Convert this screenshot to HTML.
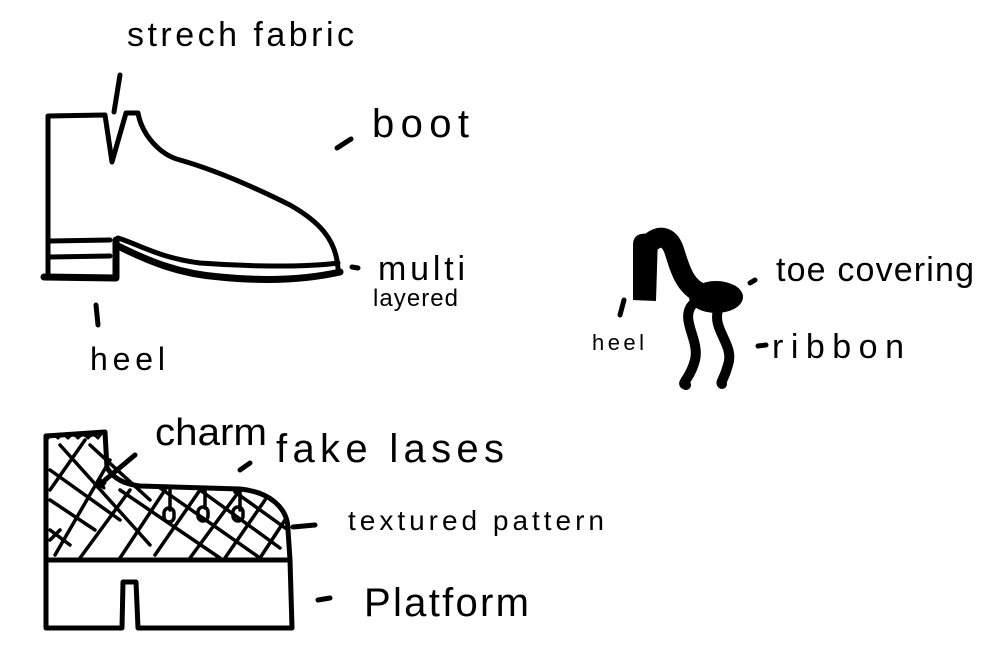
<!DOCTYPE html>
<html><head><style>
html,body{margin:0;padding:0;background:#fff;}
svg{display:block;}
text{font-family:"Liberation Sans",sans-serif;fill:#000;}
</style></head><body>
<svg width="1000" height="660" viewBox="0 0 1000 660" xmlns="http://www.w3.org/2000/svg">
<g fill="none" stroke="#000" stroke-width="5" stroke-linecap="round" stroke-linejoin="round">
<path d="M48 276 L48 116 L105 115 L112 162 L126 113 L138 113 C142 135 160 155 180 160 C215 170 250 185 290 205 C320 222 336 240 338 268"/>
<path d="M50 241 L110 240 M50 257 L110 256"/>
<path d="M44 277 L116 278 L116 240" stroke-width="7"/>
<path d="M118 238 C140 245 160 258 200 263 C240 266 300 268 338 263"/>
<path d="M118 246 C150 262 180 274 220 277 C260 281 300 281 340 272" stroke-width="7"/>
<path d="M120 75 L114 112"/>
<path d="M337 148 L351 139"/>
<path d="M352 267 L358 268"/>
<path d="M96 305 L98 325"/>
<path d="M46 436 L46 628 L122 628 L123 582 L136 582 L138 628 L292 628 L290 560"/>
<path d="M46 560 L290 560"/>
<path d="M46 436 L105 432 L107 468 C115 480 125 484 140 486 L240 489 C270 492 288 508 288 530 L290 560"/>
<path d="M48 438 q5 -6 10 0 q5 -6 10 0 q5 -6 10 0 q5 -6 10 0 q5 -6 10 0 q5 -8 8 -4" stroke-width="3"/>
<path d="M105 480 L135 455"/>
<path d="M240 470 L250 463"/>
<path d="M293 527 L315 525"/>
<path d="M318 600 L330 598"/>
<g stroke-width="3.5">
<path d="M50 470 L120 520 M50 500 L95 530 M50 530 L70 545 M60 445 L150 545 M90 445 L150 500 M120 490 L220 558 M160 488 L260 558 M200 490 L280 548 M235 492 L288 530"/>
<path d="M55 555 L110 460 M80 558 L130 490 M120 558 L165 490 M155 555 L200 490 M190 558 L240 490 M225 558 L265 500 M260 558 L285 520 M50 490 L85 440 M60 530 L50 540"/>
<path d="M170 490 L170 510 M205 488 L205 508 M240 490 L240 510"/>
<rect x="164" y="508" width="10" height="14" rx="5"/>
<rect x="198" y="507" width="10" height="14" rx="5"/>
<rect x="233" y="507" width="10" height="14" rx="5"/>
</g>
<path d="M98 488 l3 -8 l3 8 l-7 -5 l8 0 z" fill="#000" stroke-width="3"/>
<path d="M648 245 C660 232 670 238 674 250 C680 268 684 288 705 295" stroke-width="20"/>
<path d="M692 305 C680 320 700 340 695 360 C690 380 680 383 686 385" stroke-width="10"/>
<path d="M718 310 C712 330 735 345 728 365 C724 380 720 382 722 384" stroke-width="10"/>
<path d="M624 300 L620 315 M750 283 L755 280 M758 346 L766 345"/>
</g>
<path d="M633 300 L633 245 C633 232 645 232 658 236 L656 301 Z" fill="#000"/>
<ellipse cx="716" cy="297" rx="27" ry="16" fill="#000"/>
<g>
<text x="127" y="46" font-size="34" textLength="227" lengthAdjust="spacing">strech fabric</text>
<text x="372" y="137" font-size="40" textLength="97" lengthAdjust="spacing">boot</text>
<text x="378" y="280" font-size="34" textLength="87" lengthAdjust="spacing">multi</text>
<text x="373" y="306" font-size="24" textLength="85" lengthAdjust="spacing">layered</text>
<text x="90" y="370" font-size="32" textLength="75" lengthAdjust="spacing">heel</text>
<text x="776" y="281" font-size="34" textLength="198" lengthAdjust="spacing">toe covering</text>
<text x="772" y="358" font-size="34" textLength="132" lengthAdjust="spacing">ribbon</text>
<text x="592" y="350" font-size="22" textLength="52" lengthAdjust="spacing">heel</text>
<text x="155" y="445" font-size="38" textLength="112" lengthAdjust="spacingAndGlyphs">charm</text>
<text x="276" y="462" font-size="40" textLength="228" lengthAdjust="spacing">fake lases</text>
<text x="348" y="530" font-size="28" textLength="256" lengthAdjust="spacing">textured pattern</text>
<text x="364" y="616" font-size="40" textLength="165" lengthAdjust="spacing">Platform</text>
</g>
</svg>
</body></html>
